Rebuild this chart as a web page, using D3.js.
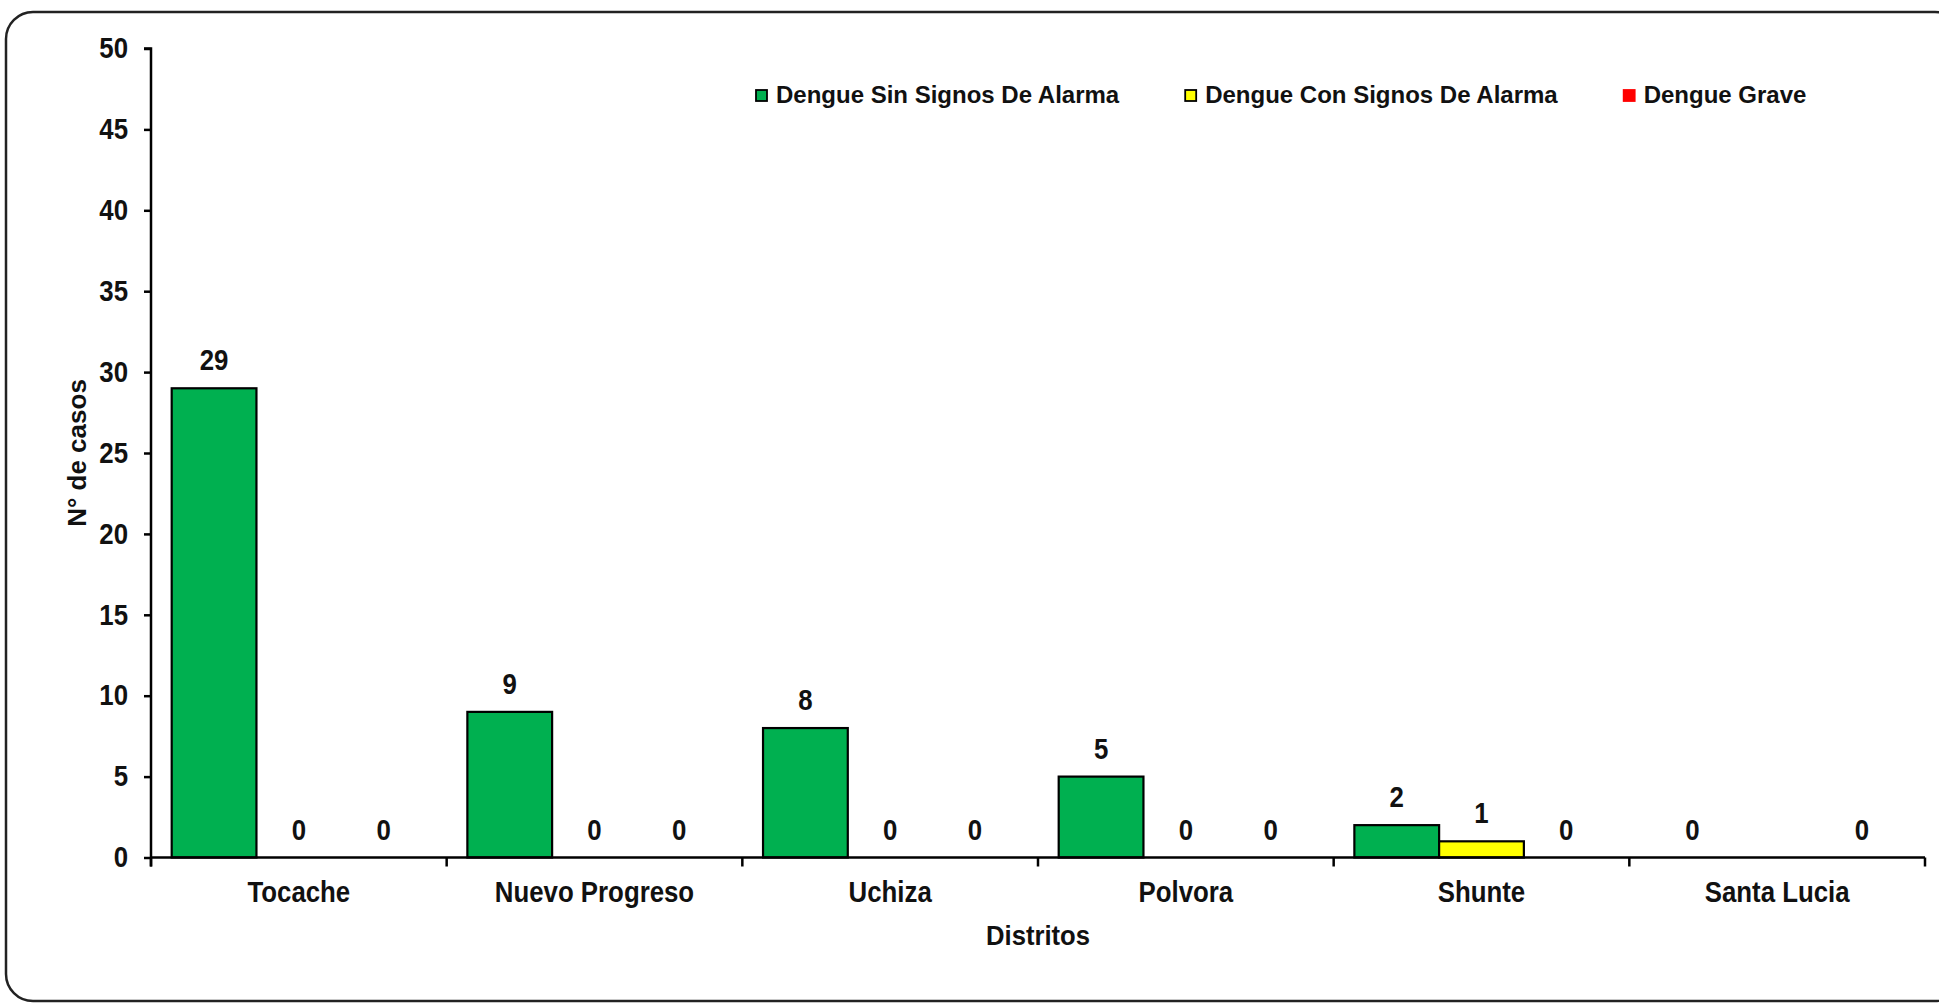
<!DOCTYPE html>
<html>
<head>
<meta charset="utf-8">
<script src="https://cdn.jsdelivr.net/npm/d3@7"></script>
<style>
  html, body { margin: 0; padding: 0; background: #fff; }
  svg { display: block; font-family: "Liberation Sans", Arial, sans-serif; font-weight: bold; }
</style>
</head>
<body>
<svg id="chart" width="1939" height="1003"></svg>
<script>
const categories = ["Tocache", "Nuevo Progreso", "Uchiza", "Polvora", "Shunte", "Santa Lucia"];
const seriesNames = ["Dengue Sin Signos De Alarma", "Dengue Con Signos De Alarma", "Dengue Grave"];
const sinSignos = [29, 9, 8, 5, 2, 0];
const conSignos = [0, 0, 0, 0, 1, null];
const grave = [0, 0, 0, 0, 0, 0];
const yTicks = [0, 5, 10, 15, 20, 25, 30, 35, 40, 45, 50];
const colors = ["#00B050", "#FFFF00", "#FF0000"];

const seriesValues = [sinSignos, conSignos, grave];
const svg = d3.select("#chart");
const W = 1939, H = 1003;
const m = { left: 151, right: 1925, top: 48.5, bottom: 857.5 };

// border
svg.append("rect")
  .attr("x", 6).attr("y", 12)
  .attr("width", 1956).attr("height", 989)
  .attr("rx", 27).attr("ry", 27)
  .attr("fill", "#fff").attr("stroke", "#222").attr("stroke-width", 2.5);

const x0 = d3.scaleBand().domain(categories).range([m.left, m.right])
  .paddingInner(0.14).paddingOuter(0.07);
const x1 = d3.scaleBand().domain(d3.range(seriesNames.length)).range([0, x0.bandwidth()]);
const y = d3.scaleLinear().domain([0, 50]).range([m.bottom, m.top]);

// bars
const rows = [];
categories.forEach((c, i) => {
  seriesValues.forEach((vals, s) => {
    rows.push({ cat: c, s: s, v: vals[i] });
  });
});

svg.append("g").selectAll("rect").data(rows).join("rect")
  .attr("x", d => x0(d.cat) + x1(d.s))
  .attr("y", d => y(d.v || 0))
  .attr("width", x1.bandwidth())
  .attr("height", d => y(0) - y(d.v || 0))
  .attr("fill", d => colors[d.s])
  .attr("stroke", d => (d.v || 0) > 0 ? "#000" : "none")
  .attr("stroke-width", 2.2);

// value labels
const sq = 0.89;
svg.append("g").selectAll("g").data(rows.filter(d => d.v !== null)).join("g")
  .attr("transform", d => `translate(${x0(d.cat) + x1(d.s) + x1.bandwidth() / 2},${y(d.v) - 18})`)
  .append("text")
  .attr("transform", `scale(${sq},1)`)
  .attr("text-anchor", "middle")
  .style("font-size", "29px")
  .attr("fill", "#111")
  .text(d => d.v);

// y axis
const yAxis = svg.append("g").attr("transform", `translate(${m.left},0)`)
  .call(d3.axisLeft(y).tickValues(yTicks).tickSize(7).tickPadding(16).tickFormat(d3.format("d")));
yAxis.select(".domain").attr("stroke", "#000").attr("stroke-width", 2.5)
  .attr("d", `M-7,${m.top}H0V${m.bottom + 9}`);
yAxis.selectAll(".tick line").attr("stroke", "#000").attr("stroke-width", 2.5);
yAxis.selectAll(".tick text")
  .style("font-size", "29px").attr("fill", "#111")
  .attr("transform", `scale(${sq},1)`)
  .attr("x", -23 / sq);

// x axis
const xAxis = svg.append("g").attr("transform", `translate(0,${m.bottom})`)
  .call(d3.axisBottom(x0).tickSize(0).tickPadding(24));
xAxis.select(".domain").attr("stroke", "#000").attr("stroke-width", 2.5)
  .attr("d", `M${m.left},0H${m.right}`);
xAxis.selectAll(".tick text")
  .style("font-size", "29px").attr("fill", "#111")
  .attr("transform", `scale(${sq},1)`);

// category boundary ticks
const bounds = categories.map(c => x0(c) - x0.step() * x0.paddingInner() / 2).concat([m.right]);
svg.append("g").selectAll("line").data(bounds).join("line")
  .attr("x1", d => d).attr("x2", d => d)
  .attr("y1", m.bottom).attr("y2", m.bottom + 9)
  .attr("stroke", "#000").attr("stroke-width", 2.5);

// axis titles
svg.append("g").attr("transform", `translate(${(m.left + m.right) / 2},945)`)
  .append("text").attr("text-anchor", "middle")
  .attr("transform", "scale(0.95,1)")
  .style("font-size", "27px").attr("fill", "#111").text("Distritos");

svg.append("text")
  .attr("transform", `translate(86,${(m.top + m.bottom) / 2}) rotate(-90)`)
  .attr("text-anchor", "middle")
  .style("font-size", "26px").attr("fill", "#111").text("N° de casos");

// legend
const legend = svg.append("g").attr("transform", "translate(756,103)");
let lx = 0;
seriesNames.forEach((name, i) => {
  const g = legend.append("g").attr("transform", `translate(${lx},0)`);
  g.append("rect").attr("x", 0).attr("y", -13).attr("width", 11).attr("height", 11)
    .attr("fill", colors[i]).attr("stroke", i === 2 ? colors[i] : "#000").attr("stroke-width", 1.8);
  const t = g.append("text").attr("x", 20).attr("y", 0)
    .style("font-size", "24px").attr("fill", "#111").text(name);
  lx += 20 + t.node().getComputedTextLength() + 66;
});
</script>
</body>
</html>
